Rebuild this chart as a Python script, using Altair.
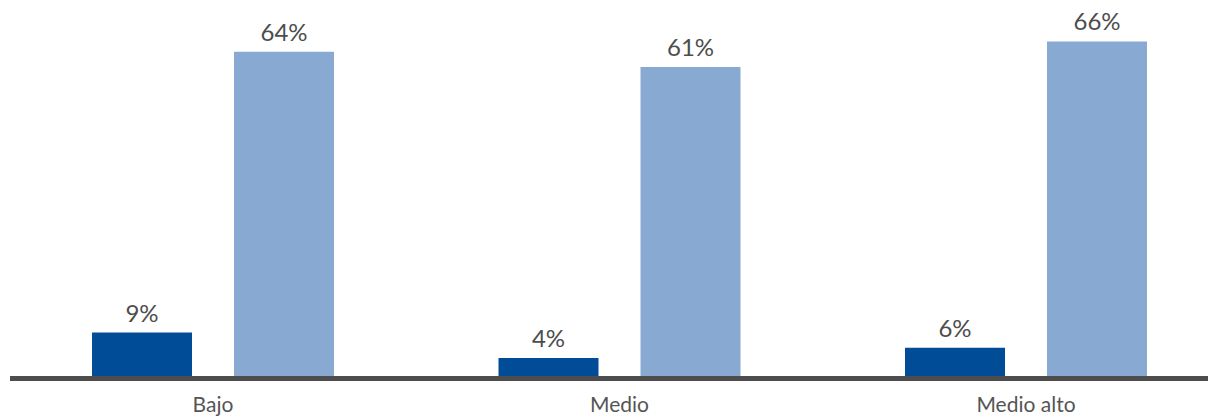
import altair as alt
import pandas as pd

categories = ["Bajo", "Medio", "Medio alto"]
series = ["A", "B"]
values_a = [9, 4, 6]
values_b = [64, 61, 66]
labels_a = ["9%", "4%", "6%"]
labels_b = ["64%", "61%", "66%"]

rows = []
for c, v, l in zip(categories, values_a, labels_a):
    rows.append({"cat": c, "serie": "A", "val": v, "lab": l})
for c, v, l in zip(categories, values_b, labels_b):
    rows.append({"cat": c, "serie": "B", "val": v, "lab": l})
df = pd.DataFrame(rows)

FONT = "Lato"
W = 1177
H = 357.5

x = alt.X("cat:N", sort=categories, title=None,
          scale=alt.Scale(paddingInner=0.10455, paddingOuter=0),
          axis=alt.Axis(labelAngle=0, labelFont=FONT, labelFontSize=21, labelColor="#555555",
                        domain=False, ticks=False, labelPadding=16,
                        labelBaseline="top", grid=False))
xo = alt.XOffset("serie:N", sort=series,
                 scale=alt.Scale(paddingInner=0.2958, paddingOuter=0.4296))
y = alt.Y("val:Q", scale=alt.Scale(domain=[0, 70], nice=False), axis=None)

base = alt.Chart(df).encode(x=x, xOffset=xo, y=y)

bars = base.mark_bar().encode(
    color=alt.Color("serie:N", sort=series,
                    scale=alt.Scale(domain=series, range=["#014c97", "#88a9d2"]),
                    legend=None)
)
text = base.mark_text(dy=-11, baseline="alphabetic", font=FONT, fontSize=24, color="#4d4d4d").encode(
    text="lab:N")

baseline = alt.Chart(pd.DataFrame({"v": [0]})).mark_rule(
    color="#4d4d4d", strokeWidth=5
).encode(y=alt.Y("v:Q", scale=alt.Scale(domain=[0, 70], nice=False), axis=None),
         x=alt.value(-21), x2=alt.value(W))

chart = (bars + text + baseline).properties(
    width=W, height=H,
    autosize=alt.AutoSizeParams(type="none"),
    padding={"left": 23, "top": 13, "right": 0, "bottom": 39.5},
).configure_view(stroke=None)

chart.save("out.html", embed_options={"renderer": "svg", "actions": False})
